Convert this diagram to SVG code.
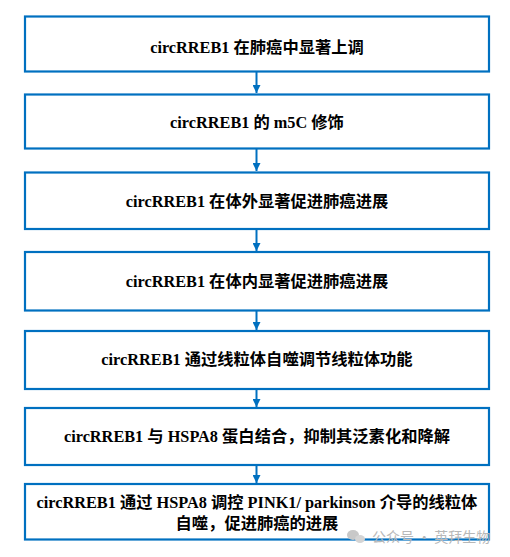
<svg xmlns="http://www.w3.org/2000/svg" width="510" height="557" viewBox="0 0 510 557">
<defs>
<style>
.box{fill:#fff;stroke:#0070C0;stroke-width:2.2}
.t{font-family:"Liberation Serif","Noto Sans CJK SC",serif;font-weight:bold;font-size:16.3px;fill:#000;text-anchor:middle}
.c{stroke:#0070C0;stroke-width:2;fill:none}
.wm{font-family:"Noto Sans CJK SC","Noto Sans",sans-serif;font-size:14px;fill:#b8b8b8}
</style>
<marker id="ah" viewBox="0 0 10 10" refX="10" refY="5" markerWidth="4" markerHeight="4" orient="auto" markerUnits="strokeWidth">
<path d="M0,0 L10,5 L0,10 Z" fill="#0070C0"/>
</marker>
</defs>
<rect width="510" height="557" fill="#fff"/>
<g id="connectors">
<line class="c" x1="256.5" y1="72" x2="256.5" y2="93" marker-end="url(#ah)"/>
<line class="c" x1="256.5" y1="149" x2="256.5" y2="171" marker-end="url(#ah)"/>
<line class="c" x1="256.5" y1="229.5" x2="256.5" y2="251" marker-end="url(#ah)"/>
<line class="c" x1="256.5" y1="311" x2="256.5" y2="330" marker-end="url(#ah)"/>
<line class="c" x1="256.5" y1="389.5" x2="256.5" y2="407" marker-end="url(#ah)"/>
<line class="c" x1="256.5" y1="465.5" x2="256.5" y2="483" marker-end="url(#ah)"/>
</g>
<g id="n1"><rect class="box" x="25" y="16.5" width="464" height="55"/><text class="t" x="257" y="52.5">circRREB1 在肺癌中显著上调</text></g>
<g id="n2"><rect class="box" x="25" y="94.5" width="464" height="54"/><text class="t" x="257" y="127.5">circRREB1 的 m5C 修饰</text></g>
<g id="n3"><rect class="box" x="25" y="172.5" width="464" height="56.5"/><text class="t" x="257" y="206.5">circRREB1 在体外显著促进肺癌进展</text></g>
<g id="n4"><rect class="box" x="25" y="252" width="464" height="58.5"/><text class="t" x="257" y="286.5">circRREB1 在体内显著促进肺癌进展</text></g>
<g id="n5"><rect class="box" x="25" y="331" width="464" height="58"/><text class="t" x="257" y="364.5">circRREB1 通过线粒体自噬调节线粒体功能</text></g>
<g id="n6"><rect class="box" x="25" y="408" width="464" height="57"/><text class="t" x="257" y="441.5">circRREB1 与 HSPA8 蛋白结合，抑制其泛素化和降解</text></g>
<g id="n7"><rect class="box" x="25" y="484" width="464" height="55.5"/><text class="t" x="257" y="507.5">circRREB1 通过 HSPA8 调控 PINK1/ parkinson 介导的线粒体</text><text class="t" x="257" y="528.5">自噬，促进肺癌的进展</text></g>
<g id="watermark">
<ellipse cx="353" cy="535" rx="6" ry="5" fill="#c8c8c8"/>
<ellipse cx="360" cy="539" rx="5" ry="4" fill="#d4d4d4"/>
<text class="wm" x="372" y="542">公众号 · 英拜生物</text>
</g>
</svg>
